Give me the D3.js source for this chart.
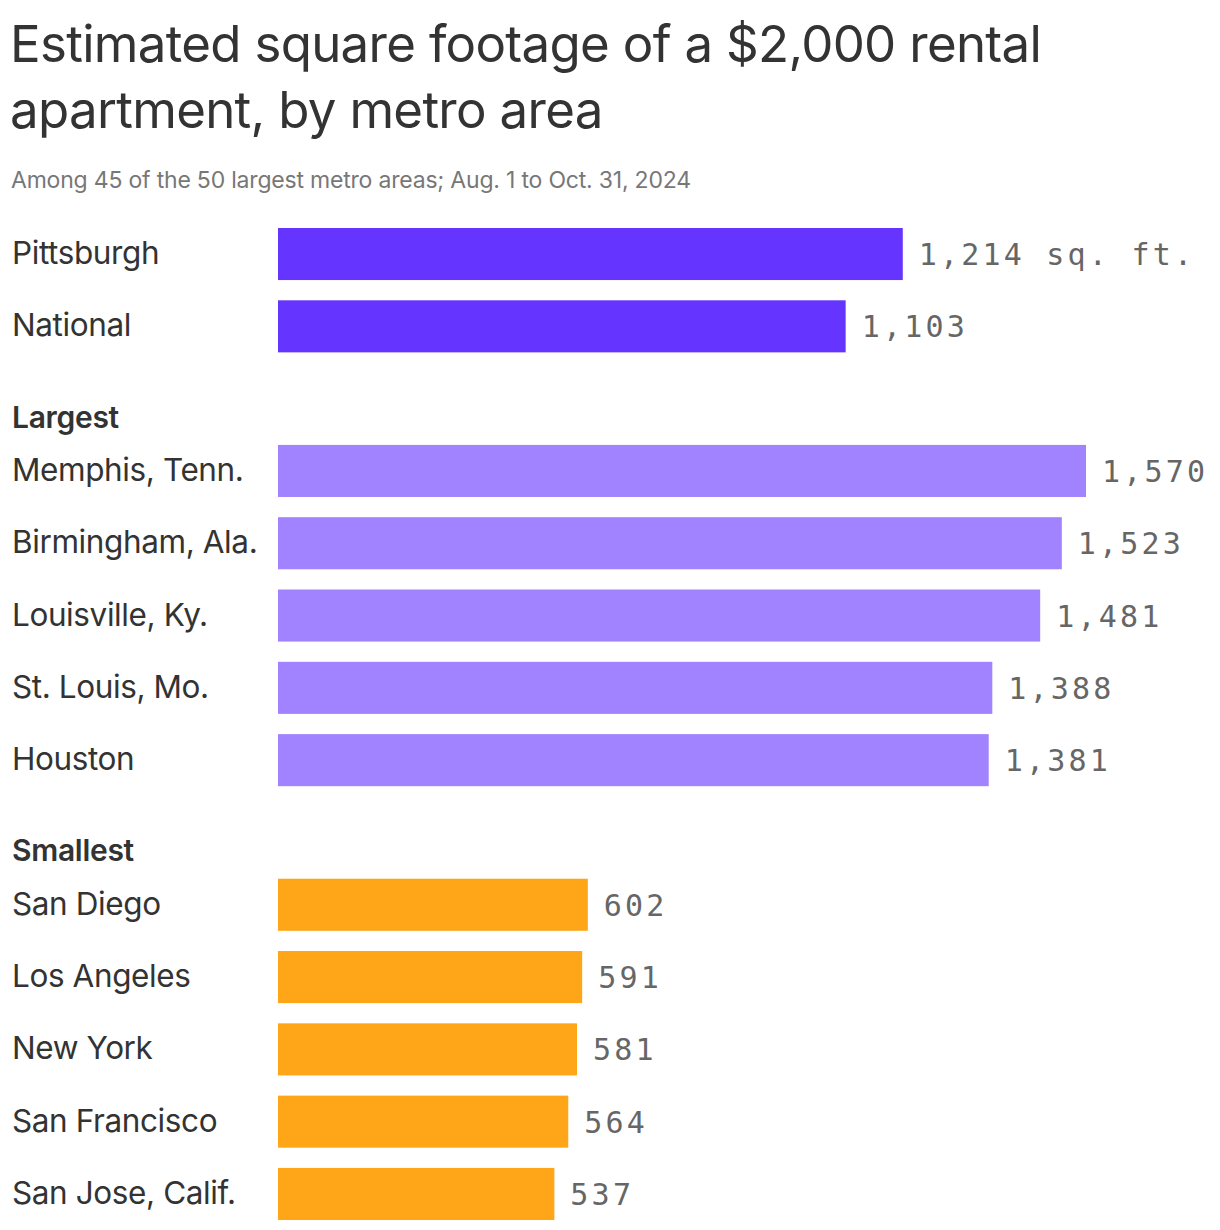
<!DOCTYPE html>
<html>
<head>
<meta charset="utf-8">
<script src="https://cdn.jsdelivr.net/npm/d3@7"></script>
<style>
  body { margin: 0; background: #fff; }
  svg text { font-family: Inter, "Noto Sans", sans-serif; }
</style>
</head>
<body>
<div id="chart"></div>
<script>
var categories = ['Pittsburgh', 'National',
  'Memphis, Tenn.', 'Birmingham, Ala.', 'Louisville, Ky.', 'St. Louis, Mo.', 'Houston',
  'San Diego', 'Los Angeles', 'New York', 'San Francisco', 'San Jose, Calif.'];
var values = [1214, 1103, 1570, 1523, 1481, 1388, 1381, 602, 591, 581, 564, 537];
var groups = ['highlight', 'highlight',
  'Largest', 'Largest', 'Largest', 'Largest', 'Largest',
  'Smallest', 'Smallest', 'Smallest', 'Smallest', 'Smallest'];
var headings = ['Largest', 'Smallest'];

var width = 1220, height = 1230;
var colors = { highlight: '#6534ff', Largest: '#a183ff', Smallest: '#ffa518' };

// rows incl. one spacer slot before each heading group
var rows = [];
groups.forEach(function(g, i) {
  if (i > 0 && g !== groups[i - 1]) rows.push('__' + g);
  rows.push(categories[i]);
});

var svg = d3.select('#chart').append('svg')
  .attr('width', width)
  .attr('height', height);

// title
var title = svg.append('text')
  .attr('x', 12)
  .style('font-size', '51px')
  .style('letter-spacing', '-0.7px')
  .style('fill', '#333');
title.append('tspan').attr('x', 10).attr('y', 62).text('Estimated square footage of a $2,000 rental');
title.append('tspan').attr('x', 10).attr('y', 128).text('apartment, by metro area');

svg.append('text')
  .attr('x', 11)
  .attr('y', 188)
  .style('font-size', '23px')
  .style('letter-spacing', '-0.2px')
  .style('fill', '#777')
  .text('Among 45 of the 50 largest metro areas; Aug. 1 to Oct. 31, 2024');

var x = d3.scaleLinear().domain([0, 1570]).range([278, 1086]);
var y = d3.scaleBand().domain(rows).range([228, 1220]).paddingInner(0.28);

var data = categories.map(function(c, i) {
  return { name: c, value: values[i], group: groups[i], idx: i };
});

// group headings
svg.selectAll('.heading')
  .data(headings)
  .enter().append('text')
  .attr('class', 'heading')
  .attr('x', 12)
  .attr('y', function(h) { return y('__' + h) + y.bandwidth() + 3; })
  .style('font-size', '30px')
  .style('font-weight', 600)
  .style('letter-spacing', '-0.3px')
  .style('fill', '#333')
  .text(function(h) { return h; });

// category labels
svg.selectAll('.cat')
  .data(data)
  .enter().append('text')
  .attr('class', 'cat')
  .attr('x', 12)
  .attr('y', function(d) { return y(d.name) + y.bandwidth() / 2 + 10; })
  .style('font-size', '31.5px')
  .style('letter-spacing', '-0.4px')
  .style('fill', '#333')
  .text(function(d) { return d.name; });

svg.selectAll('.bar')
  .data(data)
  .enter().append('rect')
  .attr('class', 'bar')
  .attr('x', x(0))
  .attr('y', function(d) { return y(d.name); })
  .attr('width', function(d) { return x(d.value) - x(0); })
  .attr('height', y.bandwidth())
  .style('fill', function(d) { return colors[d.group]; });

svg.selectAll('.val')
  .data(data)
  .enter().append('text')
  .attr('class', 'val')
  .attr('x', function(d) { return x(d.value) + 16; })
  .attr('y', function(d) { return y(d.name) + y.bandwidth() / 2 + 11; })
  .style('font-family', '"DejaVu Sans Mono", "Liberation Mono", monospace')
  .style('font-size', '30px')
  .style('letter-spacing', '3.2px')
  .style('fill', '#666')
  .text(function(d) { return d3.format(',')(d.value) + (d.idx === 0 ? ' sq. ft.' : ''); });
</script>
</body>
</html>
